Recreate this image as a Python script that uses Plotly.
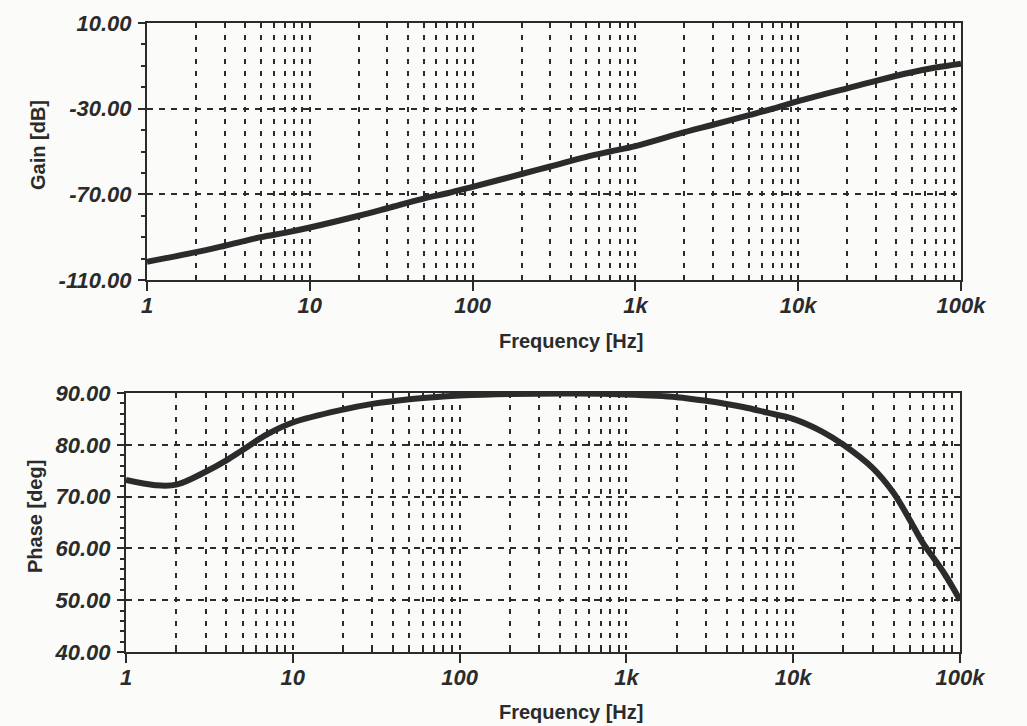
import plotly.graph_objects as go

# ---- data ----
freq_gain = [1, 2, 3, 5, 7, 10, 20, 30, 50, 70, 100, 200, 300, 500, 700,
             1000, 2000, 3000, 5000, 7000, 10000, 20000, 30000, 50000, 70000, 100000]
gain_db = [-101.5, -97.0, -94.0, -90.0, -88.0, -85.5, -80.0, -76.5, -72.0, -69.5,
           -66.5, -60.5, -57.0, -52.5, -50.0, -47.5, -41.0, -37.5, -33.0, -30.0,
           -26.5, -20.5, -17.0, -13.0, -10.8, -9.0]

freq_phase = [1, 1.5, 2, 3, 4, 5, 7, 10, 20, 30, 50, 70, 100, 200, 500, 1000,
              2000, 3000, 5000, 7000, 10000, 15000, 20000, 30000, 40000, 50000,
              60000, 70000, 80000, 90000, 100000]
phase_deg = [73.2, 72.2, 72.3, 74.8, 77.0, 79.0, 82.0, 84.3, 86.8, 87.9, 88.8,
             89.2, 89.5, 89.8, 89.9, 89.7, 89.2, 88.5, 87.3, 86.2, 85.0, 82.5,
             80.0, 75.5, 70.7, 65.5, 61.0, 58.0, 55.3, 52.6, 50.0]

x_tickvals = [1, 10, 100, 1000, 10000, 100000]
x_ticktext = ["1", "10", "100", "1k", "10k", "100k"]
gain_ticks = [-110, -70, -30, 10]
gain_ticktext = ["-110.00", "-70.00", "-30.00", "10.00"]
phase_ticks = [40, 50, 60, 70, 80, 90]
phase_ticktext = ["40.00", "50.00", "60.00", "70.00", "80.00", "90.00"]

W, H = 1027, 726
INK = "#2b2b2b"
BG = "#fbfbf9"
FONT = "Arial, Liberation Sans, sans-serif"

minor_vals = [m * 10 ** d for d in range(0, 5) for m in range(2, 10)]

def xdom(a, b):
    return [a / W, b / W]

def ydom(top, bottom):
    return [1 - bottom / H, 1 - top / H]

fig = go.Figure()
fig.add_trace(go.Scatter(x=freq_gain, y=gain_db, mode="lines",
                         line=dict(color=INK, width=6, shape="spline"),
                         xaxis="x", yaxis="y", showlegend=False))
fig.add_trace(go.Scatter(x=freq_phase, y=phase_deg, mode="lines",
                         line=dict(color=INK, width=6, shape="spline"),
                         xaxis="x2", yaxis="y2", showlegend=False))

tickfont = dict(family=FONT, size=22, color=INK, weight="bold", style="italic")
GRID = dict(gridcolor=INK, gridwidth=2, griddash="5px,7px")

def xaxis(dom, anchor):
    return dict(type="log", domain=dom, anchor=anchor, range=[0, 5],
                tickmode="array", tickvals=x_tickvals, ticktext=x_ticktext,
                ticks="outside", ticklen=9, tickwidth=2, tickcolor=INK,
                ticklabelstandoff=-4, tickfont=tickfont,
                showline=True, linecolor=INK, linewidth=2, mirror=True,
                showgrid=True, **GRID,
                minor=dict(tickmode="array", tickvals=minor_vals, ticks="inside",
                           ticklen=5, tickwidth=1.5, tickcolor=INK,
                           showgrid=True, **GRID),
                zeroline=False, fixedrange=True)

def yaxis(dom, anchor, rng, tv, tt, mdt):
    return dict(domain=dom, anchor=anchor, range=rng,
                tickmode="array", tickvals=tv, ticktext=tt,
                ticks="outside", ticklen=7, tickwidth=2, tickcolor=INK,
                ticklabelstandoff=2, tickfont=tickfont,
                showline=True, linecolor=INK, linewidth=2, mirror=True,
                showgrid=True, gridcolor=INK, gridwidth=2, griddash="6px,6px",
                minor=dict(dtick=mdt, ticks="outside", ticklen=4, tickwidth=1.5,
                           tickcolor=INK, showgrid=False),
                zeroline=False, fixedrange=True)

fig.update_layout(
    width=W, height=H,
    margin=dict(l=0, r=0, t=0, b=0, autoexpand=False),
    paper_bgcolor=BG, plot_bgcolor=BG,
    xaxis=xaxis(xdom(147, 961), "y"),
    yaxis=yaxis(ydom(23, 280), "x", [-110, 10], gain_ticks, gain_ticktext, 10),
    xaxis2=xaxis(xdom(126, 960), "y2"),
    yaxis2=yaxis(ydom(393, 652), "x2", [40, 90], phase_ticks, phase_ticktext, 2),
)

titlefont = dict(family=FONT, size=20, color=INK, weight="bold")
anns = [
    dict(text="Frequency [Hz]", x=571 / W, y=1 - 341 / H),
    dict(text="Frequency [Hz]", x=571 / W, y=1 - 712 / H),
    dict(text="Gain [dB]", x=38 / W, y=1 - 145 / H, textangle=-90),
    dict(text="Phase [deg]", x=35 / W, y=1 - 517 / H, textangle=-90),
]
for a in anns:
    fig.add_annotation(xref="paper", yref="paper", showarrow=False,
                       xanchor="center", yanchor="middle", font=titlefont, **a)

fig.write_html("out.html", config={"displayModeBar": False},
               post_script="document.body.style.margin='0';"
                           "document.body.style.overflow='hidden';")
